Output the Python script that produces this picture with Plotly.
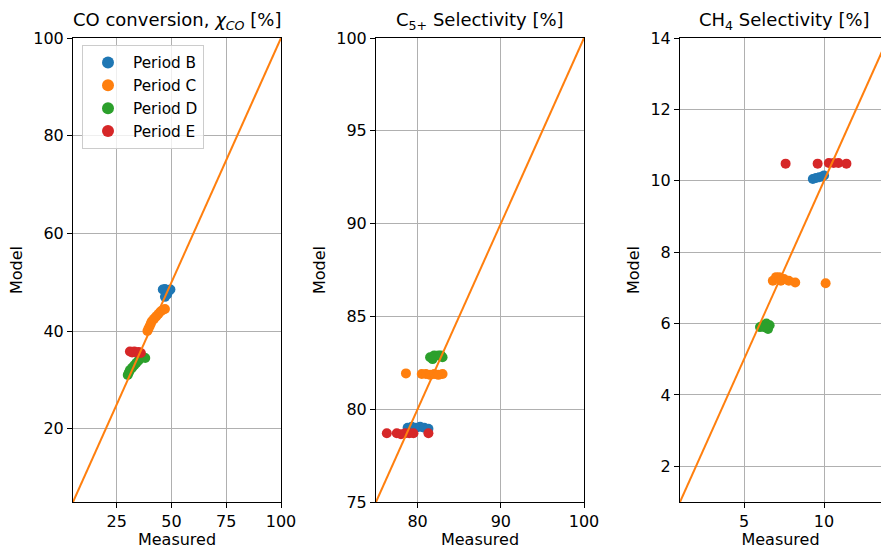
import plotly.graph_objects as go

# ---------------- data ----------------
periods = ["Period B", "Period C", "Period D", "Period E"]
colors = ["#1f77b4", "#ff7f0e", "#2ca02c", "#d62728"]

# CO conversion (measured, model)
co_B_x = [46.0, 47.0, 48.0, 49.0, 47.0, 48.0, 49.5]
co_B_y = [48.5, 48.6, 47.5, 48.3, 47.0, 48.0, 48.5]
co_C_x = [39.0, 39.5, 40.0, 40.5, 41.0, 42.0, 43.0, 44.0, 45.0, 46.0, 47.0]
co_C_y = [40.0, 40.5, 41.0, 41.5, 42.0, 42.5, 43.0, 43.5, 44.0, 44.3, 44.5]
co_D_x = [30.0, 30.5, 31.0, 32.0, 33.0, 34.0, 35.0, 36.0, 37.0, 38.0]
co_D_y = [31.0, 31.5, 32.0, 32.5, 33.0, 33.5, 34.0, 34.5, 34.7, 34.5]
co_E_x = [31.0, 32.0, 33.0, 34.0, 35.0, 36.0]
co_E_y = [35.8, 35.6, 35.8, 35.6, 35.7, 35.5]

# C5+ selectivity
c5_B_x = [78.8, 79.3, 79.8, 80.3, 80.8, 81.3]
c5_B_y = [79.0, 79.05, 79.0, 79.05, 79.0, 78.95]
c5_C_x = [78.6, 80.5, 81.0, 81.5, 82.0, 82.5, 83.0]
c5_C_y = [81.93, 81.9, 81.9, 81.85, 81.9, 81.85, 81.9]
c5_D_x = [81.5, 82.0, 82.5, 83.0, 81.8, 82.8]
c5_D_y = [82.8, 82.9, 82.9, 82.8, 82.7, 82.9]
c5_E_x = [76.3, 77.5, 78.0, 78.5, 79.0, 79.5, 81.3]
c5_E_y = [78.7, 78.7, 78.65, 78.7, 78.7, 78.7, 78.7]

# CH4 selectivity
ch4_B_x = [9.3, 9.5, 9.7, 9.9, 10.0]
ch4_B_y = [10.05, 10.08, 10.1, 10.12, 10.15]
ch4_C_x = [6.8, 7.0, 7.2, 7.5, 7.3, 7.8, 8.2, 10.1]
ch4_C_y = [7.2, 7.3, 7.3, 7.25, 7.2, 7.2, 7.15, 7.13]
ch4_D_x = [6.0, 6.2, 6.4, 6.6, 6.5, 6.3]
ch4_D_y = [5.9, 5.95, 6.0, 5.95, 5.85, 5.9]
ch4_E_x = [7.6, 9.6, 10.3, 10.6, 10.9, 11.4]
ch4_E_y = [10.48, 10.48, 10.5, 10.5, 10.5, 10.48]

co_lim = [5, 100]
c5_lim = [75, 100]
ch4_xlim = [1, 13.56]
ch4_ylim = [1, 14]

titles = ["CO conversion, <i>χ<sub>CO</sub></i> [%]",
          "C<sub>5+</sub> Selectivity [%]",
          "CH<sub>4</sub> Selectivity [%]"]

# ---------------- figure ----------------
W, H = 881, 549
fig = go.Figure()

panels = [
    ([(co_B_x, co_B_y), (co_C_x, co_C_y), (co_D_x, co_D_y), (co_E_x, co_E_y)], co_lim, co_lim, "x", "y"),
    ([(c5_B_x, c5_B_y), (c5_C_x, c5_C_y), (c5_D_x, c5_D_y), (c5_E_x, c5_E_y)], c5_lim, c5_lim, "x2", "y2"),
    ([(ch4_B_x, ch4_B_y), (ch4_C_x, ch4_C_y), (ch4_D_x, ch4_D_y), (ch4_E_x, ch4_E_y)], ch4_xlim, ch4_ylim, "x3", "y3"),
]

for pi, (series, xl, yl, xa, ya) in enumerate(panels):
    for si, (sx, sy) in enumerate(series):
        fig.add_trace(go.Scatter(
            x=sx, y=sy, mode="markers", xaxis=xa, yaxis=ya,
            marker=dict(color=colors[si], size=10, line=dict(width=0)),
            name=periods[si], showlegend=(pi == 0), legendgroup=periods[si]))
    lo = min(xl[0], yl[0]); hi = max(xl[1], yl[1])
    fig.add_trace(go.Scatter(
        x=[lo, hi], y=[lo, hi], mode="lines", xaxis=xa, yaxis=ya,
        line=dict(color="#ff7f0e", width=2), showlegend=False, hoverinfo="skip"))

ydom = [1 - 502 / H, 1 - 38 / H]
xdoms = [[73 / W, 281 / W], [376 / W, 584 / W], [680 / W, 1.0]]

axis_common = dict(showline=True, linecolor="black", linewidth=1,
                   ticks="outside", ticklen=5, tickwidth=1, tickcolor="black",
                   showgrid=True, gridcolor="#b0b0b0", gridwidth=1,
                   zeroline=False, automargin=False,
                   tickfont=dict(size=16, color="black"))

layout = dict(
    width=W, height=H, margin=dict(l=0, r=0, t=0, b=0, autoexpand=False),
    paper_bgcolor="white", plot_bgcolor="white",
    font=dict(family="DejaVu Sans", color="black", size=16),
    showlegend=True,
    legend=dict(x=82 / W, y=1 - 45 / H, xanchor="left", yanchor="top",
                bgcolor="rgba(255,255,255,0.8)", bordercolor="#cccccc", borderwidth=1,
                font=dict(size=15.3), itemsizing="constant", itemwidth=40,
                tracegroupgap=0),
)

xticks = [[25, 50, 75, 100], [80, 90, 100], [5, 10]]
yticks = [[20, 40, 60, 80, 100], [75, 80, 85, 90, 95, 100], [2, 4, 6, 8, 10, 12, 14]]
ranges = [(co_lim, co_lim), (c5_lim, c5_lim), (ch4_xlim, ch4_ylim)]

for i in range(3):
    sfx = "" if i == 0 else str(i + 1)
    xr, yr = ranges[i]
    layout["xaxis" + sfx] = dict(axis_common, domain=xdoms[i], range=xr,
                                 tickvals=xticks[i], mirror=True,
                                 anchor="y" + sfx,
                                 title=dict(text="Measured", font=dict(size=16), standoff=4))
    layout["yaxis" + sfx] = dict(axis_common, domain=ydom, range=yr,
                                 tickvals=yticks[i], mirror=(i < 2),
                                 anchor="x" + sfx,
                                 title=dict(text="Model", font=dict(size=16), standoff=6))

fig.update_layout(**layout)

for i in range(3):
    cx = (xdoms[i][0] + (xdoms[i][1] if i < 2 else (680 + 208) / W)) / 2
    fig.add_annotation(text=titles[i], x=cx, y=1 - 38 / H, xref="paper", yref="paper",
                       xanchor="center", yanchor="bottom", yshift=3, showarrow=False,
                       font=dict(size=18, color="black"))

fig.write_html("out.html", config={"displayModeBar": False},
               post_script="document.body.style.margin='0';document.body.style.overflow='hidden';")
